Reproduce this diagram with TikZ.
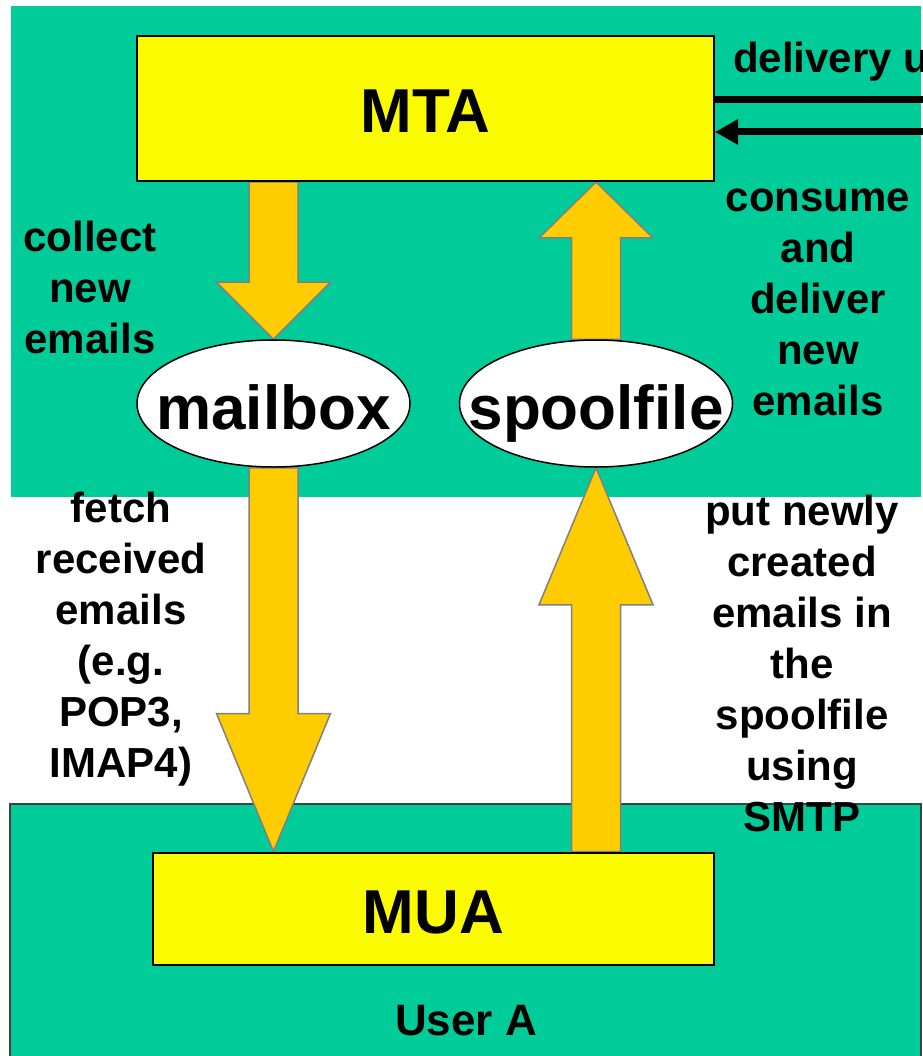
\documentclass[tikz,border=0pt]{standalone}
\usepackage{fontspec}
\setmainfont{Liberation Sans}
\usetikzlibrary{arrows.meta,positioning,calc,shapes.geometric,backgrounds}

\definecolor{hostgreen}{RGB}{0,204,153}
\definecolor{agentyellow}{RGB}{250,250,0}
\definecolor{flowgold}{RGB}{255,204,0}

% fat block arrow: from, to, head length
\newcommand{\fatarrow}[3]{%
  \path ($(#2)!#3!(#1)$) coordinate (hb);
  \draw[flow] ($(#1)!24.5pt!90:(#2)$) -- ($(hb)!24.5pt!90:(#2)$) -- ($(hb)!57pt!90:(#2)$) -- (#2)
    -- ($(hb)!57pt!-90:(#2)$) -- ($(hb)!24.5pt!-90:(#2)$) -- ($(#1)!24.5pt!-90:(#2)$) -- cycle;}

\begin{document}
\begin{tikzpicture}[x=1pt,y=-1pt,
		agent/.style={draw,line width=2pt,fill=agentyellow,inner sep=0pt,text height=49pt,text depth=0pt,font=\fontsize{62}{62}\selectfont\bfseries},
		store/.style={draw,line width=1.5pt,fill=white,ellipse,minimum width=273pt,minimum height=127pt,inner sep=0pt,text height=58pt,text depth=6pt,font=\fontsize{62}{62}\selectfont\bfseries},
		lbl/.style={align=center,inner sep=0pt,font=\fontsize{42}{51}\selectfont\bfseries},
		flow/.style={fill=flowgold,draw=gray,line width=1.5pt,line join=miter},
		wire/.style={line width=7pt}]
	\useasboundingbox (0,0) rectangle (922,1056);

	\node [agent,minimum width=577pt,minimum height=145pt] (mta) at (425.5,108.5) {MTA};
	\node [store] (mailbox) at (273.5,403.5) {\makebox[0pt]{mailbox}};
	\node [store,right=48pt of mailbox] (spool) {\makebox[0pt]{spoolfile}};
	\node [agent,minimum width=561pt,minimum height=112pt] (mua) at (433.5,908.5) {MUA};
	\node [lbl,font=\fontsize{44}{51}\selectfont\bfseries] (user) at (466,1021) {User A};

	\node [lbl] (collect) at (90,287) {collect\\new\\emails};
	\node [lbl] (consume) at (818,302.5) {consume\\and\\deliver\\new\\emails};
	\node [lbl] (fetch) at (121,639.5) {fetch\\received\\emails\\(e.g.\\POP3,\\IMAP4)};
	\node [lbl] (put) at (802,663.5) {put newly\\created\\emails in\\the\\spoolfile\\using\\SMTP};
	\node [lbl,anchor=west] (delivery) at (733,61.5) {delivery u};

	% link to the outside
	\coordinate (feedout) at (940,100);
	\coordinate (feedin) at (940,132);
	\draw [wire] (mta.east |- feedout) -- (feedout);
	\draw [wire,-{Triangle[length=23pt,width=24pt]}] (feedin) -- (mta.east |- feedin);

	\coordinate (a1) at (mta.south -| mailbox.north);
	\coordinate (a2) at (mta.south -| spool.north);
	\coordinate (a3) at (mua.north -| mailbox.south);
	\coordinate (a4) at (mua.north -| spool.south);

	\begin{scope}[on background layer]
		\fill [hostgreen] (11,6) rectangle (921,497);
		\draw [fill=hostgreen,draw=black!75,line width=1.2pt] (10,804) rectangle (921,1070);
		\fatarrow{a1}{mailbox.north}{57pt}
		\fatarrow{spool.north}{a2}{56pt}
		\fatarrow{mailbox.south}{a3}{138pt}
		\fatarrow{a4}{spool.south}{137pt}
	\end{scope}
\end{tikzpicture}
\end{document}
